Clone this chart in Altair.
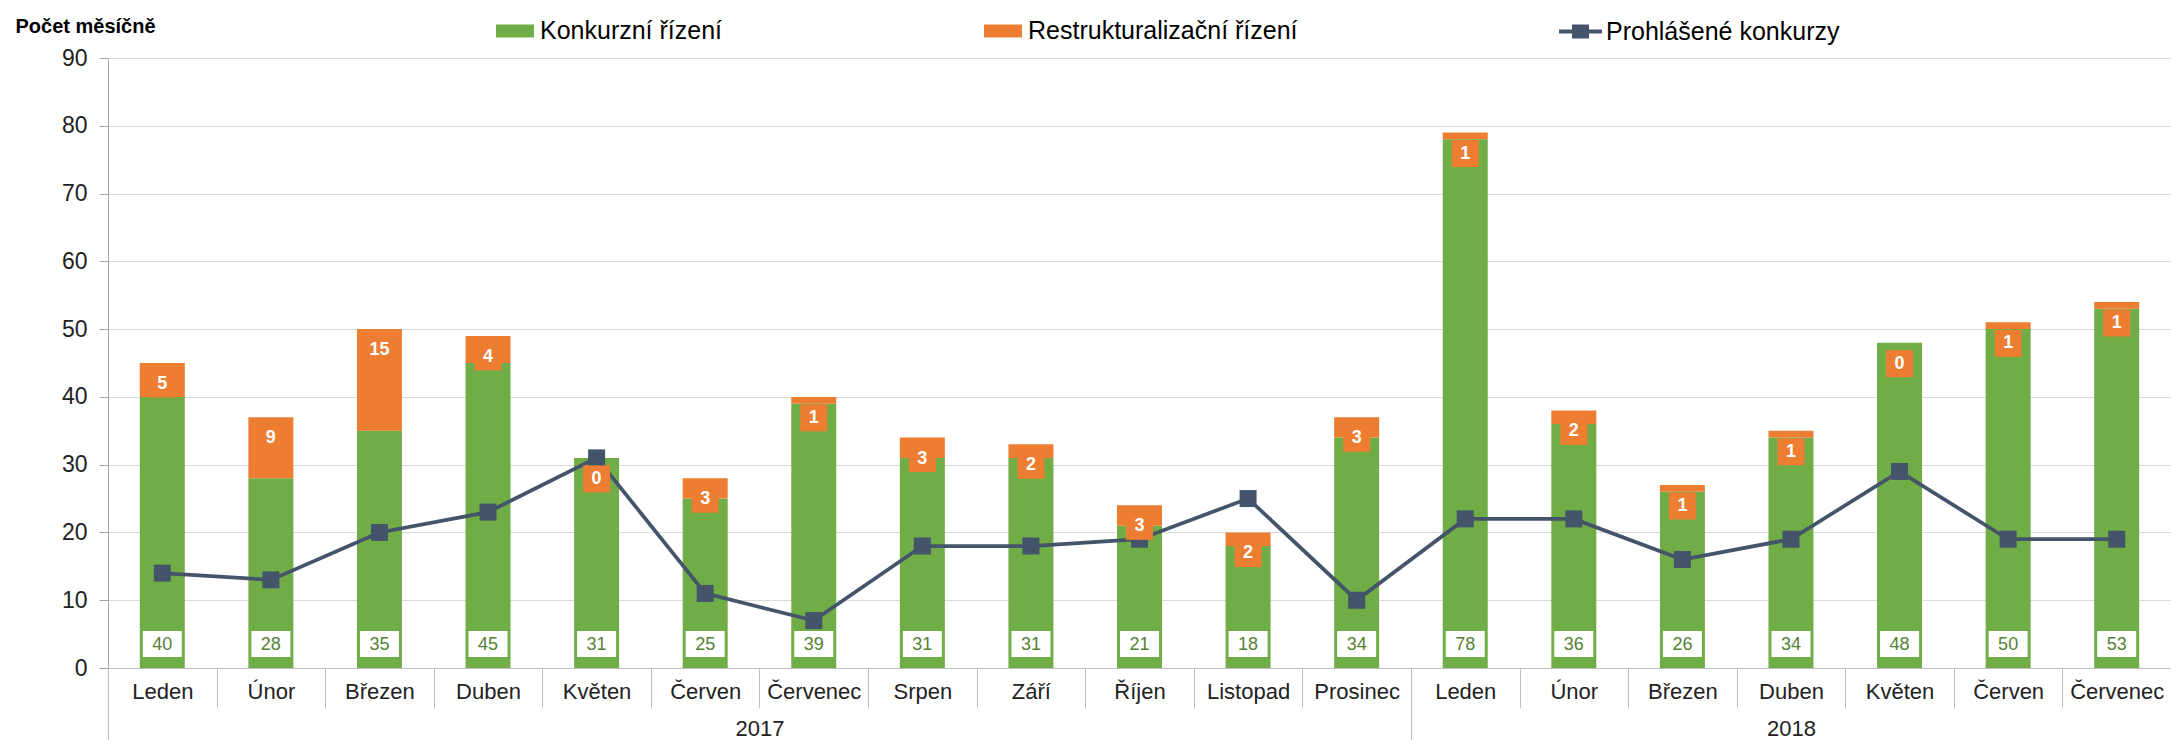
import json
import altair as alt
import pandas as pd

# ---------------- data ----------------
months = ["Leden", "Únor", "Březen", "Duben", "Květen", "Červen", "Červenec",
          "Srpen", "Září", "Říjen", "Listopad", "Prosinec",
          "Leden", "Únor", "Březen", "Duben", "Květen", "Červen", "Červenec"]
year_labels = ["2017", "2018"]
year_counts = [12, 7]
konkurz = [40, 28, 35, 45, 31, 25, 39, 31, 31, 21, 18, 34, 78, 36, 26, 34, 48, 50, 53]
restrukt = [5, 9, 15, 4, 0, 3, 1, 3, 2, 3, 2, 3, 1, 2, 1, 1, 0, 1, 1]
prohlasene = [14, 13, 20, 23, 31, 11, 7, 18, 18, 19, 25, 10, 22, 22, 16, 19, 29, 19, 19]
y_ticks = [0, 10, 20, 30, 40, 50, 60, 70, 80, 90]

S_K = "Konkurzní řízení"
S_R = "Restrukturalizační řízení"
S_P = "Prohlášené konkurzy"

GREEN = "#70ad47"
ORANGE = "#ed7d31"
NAVY = "#44546a"
DKGREEN = "#548235"
TXT = "#222222"
FONT = "Liberation Sans"

n = len(months)
idx = list(range(n))

bars_df = pd.DataFrame({
    "idx": idx * 2,
    "series": [S_K] * n + [S_R] * n,
    "value": konkurz + restrukt,
    "ord": [0] * n + [1] * n,
})
wide = pd.DataFrame({"idx": idx, "k": konkurz, "r": restrukt, "p": prohlasene,
                     "line": [S_P] * n})
wide["top"] = wide["k"] + wide["r"]

starts = [sum(year_counts[:i]) for i in range(len(year_counts))]
centers = [s + c / 2 for s, c in zip(starts, year_counts)]
bounds = starts + [n]


def jskey(v):
    return str(int(v)) if float(v).is_integer() else str(v)


year_map = "{" + ",".join(f"'{jskey(c)}':'{y}'" for c, y in zip(centers, year_labels)) + "}"
year_df = pd.DataFrame({"center": centers, "year": year_labels})
sep_df = pd.DataFrame({"b": bounds})

# ---------------- encodings ----------------
x_axis = alt.Axis(
    title=None, labelExpr=json.dumps(months, ensure_ascii=False) + "[datum.value]",
    labelAngle=0, tickBand="extent", tickSize=40, tickColor="#bfbfbf",
    domainColor="#bfbfbf", labelPadding=-10, labelBaseline="alphabetic",
    labelFontSize=22, labelColor=TXT, labelOverlap=False, grid=False,
    orient="bottom", labelFont=FONT,
)
x_enc = alt.X("idx:O", scale=alt.Scale(paddingInner=0, paddingOuter=0), axis=x_axis)

yscale = alt.Scale(domain=[0, 90], nice=False)
y_axis = alt.Axis(
    values=y_ticks, title="Počet měsíčně", titleAngle=0, titleAlign="left",
    titleBaseline="middle", titleX=-93, titleY=-32, titleFontWeight="bold",
    titleFontSize=20, titleColor="#000000", titleFont=FONT,
    labelFontSize=23, labelPadding=12, labelColor=TXT, labelFont=FONT,
    tickSize=9, tickColor="#a6a6a6", domainColor="#a6a6a6",
    gridColor="#d9d9d9", grid=True,
)

bars = alt.Chart(bars_df).mark_bar(size=45).encode(
    x=x_enc,
    y=alt.Y("value:Q", stack="zero", scale=yscale, axis=y_axis),
    color=alt.Color(
        "series:N",
        scale=alt.Scale(domain=[S_K, S_R], range=[GREEN, ORANGE]),
        legend=alt.Legend(
            title=None, orient="none", legendX=394, legendY=-40,
            direction="horizontal", symbolType="M-1.46,-0.5H1.46V0.5H-1.46Z",
            symbolSize=676, symbolStrokeWidth=0, labelOffset=12,
            columnPadding=261, labelFontSize=25, labelColor="#000000",
            labelFont=FONT, padding=0, labelLimit=0,
        ),
    ),
    order=alt.Order("ord:Q"),
)

line = alt.Chart(wide).mark_line(color=NAVY, strokeWidth=3.75).encode(
    x=x_enc, y=alt.Y("p:Q", scale=yscale, axis=y_axis),
)

points = alt.Chart(wide).mark_point(shape="square", filled=True, size=289, color=NAVY).encode(
    x=x_enc,
    y=alt.Y("p:Q", scale=yscale, axis=y_axis),
    opacity=alt.Opacity(
        "line:N",
        scale=alt.Scale(domain=[S_P], range=[1]),
        legend=alt.Legend(
            title=None, orient="none", legendX=1456, legendY=-43,
            symbolType="M-1.3,-0.12H1.3V0.12H-1.3ZM-0.515,-0.42H0.515V0.42H-0.515Z",
            symbolSize=1089, symbolFillColor=NAVY, symbolStrokeWidth=0,
            labelOffset=9, labelFontSize=25,
            labelColor="#000000", labelFont=FONT, padding=0, labelLimit=0,
        ),
    ),
)

green_box = alt.Chart(wide).mark_point(
    shape="M-0.75,-0.5H0.75V0.5H-0.75Z", size=2704, filled=True,
    fill="white", opacity=1, strokeWidth=0, yOffset=-24,
).encode(x=x_enc, y=alt.YDatum(0, scale=yscale, axis=y_axis))

green_text = alt.Chart(wide).mark_text(
    fontSize=18, color=DKGREEN, baseline="middle", dy=-23, font=FONT,
).encode(x=x_enc, y=alt.YDatum(0, scale=yscale, axis=y_axis), text="k:Q")

orange_box = alt.Chart(wide).mark_point(
    shape="square", size=729, filled=True, fill=ORANGE, opacity=1,
    strokeWidth=0, yOffset=21,
).encode(x=x_enc, y=alt.Y("top:Q", scale=yscale, axis=y_axis))

orange_text = alt.Chart(wide).mark_text(
    fontSize=18, fontWeight="bold", color="white", baseline="middle", dy=21, font=FONT,
).encode(x=x_enc, y=alt.Y("top:Q", scale=yscale, axis=y_axis), text="r:Q")

main = alt.layer(bars, line, points, green_box, green_text, orange_box, orange_text)

sep_layer = alt.Chart(sep_df).mark_point(opacity=0).encode(
    x=alt.X("b:Q", scale=alt.Scale(domain=[0, n], nice=False, zero=False),
            axis=alt.Axis(values=bounds, labels=False, tickSize=72, tickColor="#bfbfbf",
                          domain=False, grid=False, orient="bottom", title=None)),
)

year_layer = alt.Chart(year_df).mark_point(opacity=0).encode(
    x=alt.X("center:Q", scale=alt.Scale(domain=[0, n], nice=False, zero=False),
            axis=alt.Axis(values=centers, labelExpr=year_map + "[datum.value]",
                          ticks=False, tickSize=0, domain=False, grid=False,
                          labelPadding=67, labelBaseline="alphabetic", labelFontSize=22,
                          labelColor=TXT, labelFont=FONT, labelFlush=False,
                          labelOverlap=False, orient="bottom", title=None)),
)

chart = alt.layer(main, sep_layer, year_layer).resolve_scale(x="independent").properties(
    width=2063, height=610,
    autosize=alt.AutoSizeParams(type="none"),
    padding={"left": 100, "top": 50, "right": 0, "bottom": 72},
).configure_view(strokeWidth=0).configure(font=FONT)

chart.save("out.html", embed_options={"renderer": "svg", "actions": False})
